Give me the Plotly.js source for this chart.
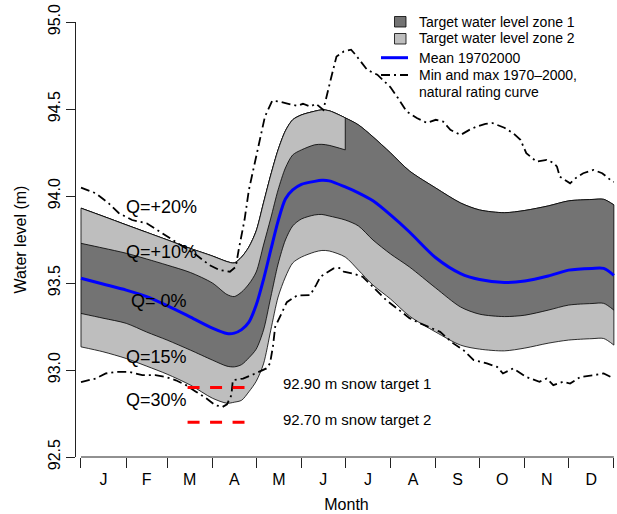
<!DOCTYPE html>
<html>
<head>
<meta charset="utf-8">
<script src="https://cdn.plot.ly/plotly-3.0.1.min.js"></script>
<style>html,body{margin:0;padding:0;background:#fff;}#chart{width:617px;height:514px;}</style>
</head>
<body>
<div id="chart"></div>
<script>
// ---- data (day of year, water level in m) ----
const bandDays = [0, 15, 31, 45, 59, 75, 90, 100, 105, 110, 115, 120, 125, 130, 135, 140, 145, 151, 160, 165, 170, 181, 190, 200, 212, 225, 243, 260, 273, 290, 304, 320, 334, 350, 358, 365];
const qPlus20 = [93.930, 93.884, 93.834, 93.791, 93.748, 93.698, 93.655, 93.623, 93.615, 93.649, 93.707, 93.799, 93.960, 94.121, 94.265, 94.374, 94.438, 94.466, 94.487, 94.495, 94.490, 94.449, 94.409, 94.340, 94.248, 94.144, 94.046, 93.960, 93.920, 93.904, 93.917, 93.943, 93.972, 93.980, 93.981, 93.949];
const switchDay = 181;
const qPlus10 = [93.728, 93.701, 93.671, 93.638, 93.603, 93.560, 93.500, 93.434, 93.422, 93.448, 93.494, 93.563, 93.718, 93.873, 94.035, 94.161, 94.236, 94.265, 94.294, 94.297, 94.291, 94.265];
const meanLevel = [93.527, 93.494, 93.459, 93.422, 93.370, 93.304, 93.241, 93.210, 93.212, 93.232, 93.275, 93.373, 93.520, 93.690, 93.856, 93.983, 94.035, 94.067, 94.084, 94.090, 94.087, 94.052, 94.018, 93.972, 93.891, 93.793, 93.645, 93.554, 93.520, 93.503, 93.511, 93.540, 93.574, 93.584, 93.584, 93.544];
const qMinus15 = [93.325, 93.298, 93.268, 93.218, 93.172, 93.114, 93.057, 93.022, 93.018, 93.031, 93.070, 93.120, 93.229, 93.419, 93.609, 93.747, 93.828, 93.868, 93.891, 93.894, 93.885, 93.862, 93.828, 93.747, 93.667, 93.592, 93.471, 93.362, 93.321, 93.307, 93.315, 93.344, 93.373, 93.382, 93.383, 93.344];
const qMinus30 = [93.133, 93.105, 93.066, 93.022, 92.976, 92.913, 92.838, 92.809, 92.815, 92.826, 92.875, 92.935, 93.035, 93.229, 93.419, 93.534, 93.615, 93.649, 93.678, 93.687, 93.684, 93.649, 93.574, 93.488, 93.408, 93.310, 93.218, 93.143, 93.120, 93.110, 93.126, 93.154, 93.172, 93.180, 93.181, 93.143];

const maxDays = [0, 10, 19, 26, 35, 45, 54, 63, 72, 79, 88, 95, 102, 106, 108, 112, 115, 121, 126, 131, 136, 142, 148, 152, 157, 161, 166, 171, 175, 180, 185, 188, 196, 203, 212, 217, 223, 230, 237, 243, 248, 253, 260, 266, 271, 277, 282, 290, 296, 301, 305, 312, 319, 324, 326, 328, 335, 339, 344, 351, 357, 364, 365];
const maxLevel = [94.048, 94.016, 93.958, 93.901, 93.862, 93.843, 93.795, 93.747, 93.699, 93.661, 93.603, 93.574, 93.565, 93.593, 93.690, 93.862, 94.035, 94.265, 94.457, 94.547, 94.543, 94.530, 94.518, 94.530, 94.514, 94.530, 94.495, 94.668, 94.802, 94.831, 94.841, 94.812, 94.725, 94.697, 94.625, 94.564, 94.486, 94.448, 94.420, 94.438, 94.428, 94.380, 94.351, 94.380, 94.399, 94.415, 94.419, 94.392, 94.361, 94.323, 94.246, 94.198, 94.208, 94.189, 94.169, 94.111, 94.073, 94.104, 94.131, 94.150, 94.131, 94.083, 94.081];
const minDays = [0, 10, 17, 24, 33, 42, 51, 58, 65, 72, 79, 86, 92, 97, 100, 103, 104, 111, 120, 127, 129.5, 131.5, 133, 137.5, 141, 148, 157, 161, 164, 173, 177, 180, 186, 193, 200, 209, 218, 225, 232, 246, 255, 262, 269, 278, 285, 289, 296, 305, 314, 319, 323.5, 330, 335, 342, 351, 358, 365];
const minLevel = [92.930, 92.951, 92.980, 92.989, 92.989, 92.970, 92.970, 92.960, 92.941, 92.913, 92.874, 92.836, 92.798, 92.788, 92.803, 92.855, 92.941, 92.951, 92.982, 93.009, 93.039, 93.137, 93.248, 93.325, 93.390, 93.428, 93.431, 93.488, 93.536, 93.584, 93.586, 93.565, 93.555, 93.536, 93.478, 93.402, 93.344, 93.298, 93.269, 93.219, 93.153, 93.114, 93.057, 93.038, 93.018, 92.980, 93.009, 92.960, 92.932, 92.951, 92.913, 92.932, 92.922, 92.960, 92.970, 92.980, 92.951];

const snowTargets = [92.90, 92.70];
const snowDays = [73, 112];
const snowLabels = ["92.90 m snow target 1", "92.70 m snow target 2"];
const snowLabelDay = 137;
const snowLabelLevel = [92.921, 92.717];

const qLabels = ["Q=+20%", "Q=+10%", "Q= 0%", "Q=15%", "Q=30%"];
const qLabelDay = [29.7, 29.7, 33.1, 29.7, 29.7];
const qLabelLevel = [93.939, 93.680, 93.397, 93.076, 92.826];

const monthStarts = [0, 31, 59, 90, 120, 151, 181, 212, 243, 273, 304, 334, 365];
const monthLetters = ["J", "F", "M", "A", "M", "J", "J", "A", "S", "O", "N", "D"];
const yTicks = [92.5, 93.0, 93.5, 94.0, 94.5, 95.0];
const legendLabels = ["Target water level zone 1", "Target water level zone 2", "Mean 19702000", "Min and max 1970\u20132000,", "natural rating curve"];

// ---- derived geometry ----
const monthMids = monthLetters.map((m, i) => (monthStarts[i] + monthStarts[i + 1]) / 2);
const iSw = bandDays.indexOf(switchDay);
const preDays = bandDays.slice(0, iSw + 1);
const last = bandDays.length - 1;

const DARK = "#737373", LIGHT = "#BEBEBE", BLUE = "#0000FF";
const DASHDOT = "9px,4px,2px,4px";
const FONT = "Liberation Sans, Arial, Helvetica, sans-serif";
const EDGE = {color: "#000", width: 0.8, shape: "spline", smoothing: 0.8};

const traces = [
  // zone 2 (light) between Q=30% and Q=+20%
  {x: bandDays, y: qMinus30, type: "scatter", mode: "lines", line: EDGE},
  {x: bandDays, y: qPlus20, type: "scatter", mode: "lines", fill: "tonexty", fillcolor: LIGHT, line: EDGE},
  // zone 1 (dark) between Q=15% and upper limit
  {x: bandDays, y: qMinus15, type: "scatter", mode: "lines", line: EDGE},
  {x: bandDays, y: qPlus20, type: "scatter", mode: "lines", fill: "tonexty", fillcolor: DARK, line: EDGE},
  // before the switch day the upper zone-1 limit is Q=+10%, zone 2 above it
  {x: preDays, y: qPlus10, type: "scatter", mode: "lines", line: EDGE},
  {x: preDays, y: qPlus20.slice(0, iSw + 1), type: "scatter", mode: "lines", fill: "tonexty", fillcolor: LIGHT, line: EDGE},
  // vertical edges of the zones
  {x: [bandDays[0], bandDays[0], null, bandDays[last], bandDays[last], null, switchDay, switchDay],
   y: [qMinus30[0], qPlus20[0], null, qMinus30[last], qPlus20[last], null, qPlus10[iSw], qPlus20[iSw]],
   type: "scatter", mode: "lines", line: {color: "#000", width: 0.8}},
  {x: bandDays, y: meanLevel, type: "scatter", mode: "lines", line: {color: BLUE, width: 3, shape: "spline", smoothing: 0.8}},
  {x: maxDays, y: maxLevel, type: "scatter", mode: "lines", line: {color: "#000", width: 1.8, dash: DASHDOT}},
  {x: minDays, y: minLevel, type: "scatter", mode: "lines", line: {color: "#000", width: 1.8, dash: DASHDOT}}
];
snowTargets.forEach(v => traces.push({x: snowDays, y: [v, v], xaxis: "x2", type: "scatter", mode: "lines", line: {color: "#FF0000", width: 3, dash: "12px,10.5px"}}));

// pixel helpers for the hand-built legend (plot area: x 76..617, y 22..457)
const PL = 76, PW = 541, PT = 22, PH = 435;
const px = v => (v - PL) / PW;
const py = v => (PT + PH - v) / PH;

const shapes = [
  {type: "line", xref: "x", yref: "paper", x0: monthStarts[0], x1: monthStarts[monthStarts.length - 1], y0: 0, y1: 0, line: {color: "#222", width: 1}},
  {type: "rect", xref: "paper", yref: "paper", x0: px(394.5), x1: px(406), y0: py(27), y1: py(16.5), fillcolor: DARK, line: {color: "#000", width: 0.8}},
  {type: "rect", xref: "paper", yref: "paper", x0: px(394.5), x1: px(406), y0: py(44), y1: py(33.5), fillcolor: LIGHT, line: {color: "#000", width: 0.8}},
  {type: "line", xref: "paper", yref: "paper", x0: px(381), x1: px(408), y0: py(57.7), y1: py(57.7), line: {color: BLUE, width: 3}},
  {type: "line", xref: "paper", yref: "paper", x0: px(381), x1: px(408), y0: py(75), y1: py(75), line: {color: "#000", width: 1.8, dash: DASHDOT}}
];

const legendY = [21.7, 38.5, 58, 75, 91.7];
const annotations = [];
legendLabels.forEach((t, i) => annotations.push({text: t, xref: "paper", yref: "paper", x: px(417), y: py(legendY[i]), xanchor: "left", yanchor: "middle", showarrow: false, font: {family: FONT, size: 14, color: "#000"}}));
qLabels.forEach((t, i) => annotations.push({text: t, x: qLabelDay[i], y: qLabelLevel[i], xref: "x", yref: "y", xanchor: "left", yanchor: "middle", showarrow: false, font: {family: FONT, size: 18, color: "#000"}}));
snowLabels.forEach((t, i) => annotations.push({text: t, x: snowLabelDay, y: snowLabelLevel[i], xref: "x", yref: "y", xanchor: "left", yanchor: "middle", showarrow: false, font: {family: FONT, size: 15, color: "#000"}}));

const xRange = [-3.42, -3.42 + PW / 1.46];
const layout = {
  width: 617, height: 514,
  margin: {l: PL, r: 0, t: PT, b: 514 - PT - PH, pad: 0},
  paper_bgcolor: "#fff", plot_bgcolor: "#fff",
  showlegend: false,
  font: {family: FONT, size: 16, color: "#000"},
  xaxis: {range: xRange, tickmode: "array", tickvals: monthStarts, showticklabels: false, ticks: "outside", ticklen: 10, tickwidth: 1, tickcolor: "#222", showline: false, showgrid: false, zeroline: false},
  xaxis2: {overlaying: "x", anchor: "y", side: "bottom", range: xRange, tickmode: "array", tickvals: monthMids, ticktext: monthLetters, ticks: "outside", ticklen: 8, tickcolor: "rgba(0,0,0,0)", showline: false, showgrid: false, zeroline: false, tickfont: {family: FONT, size: 16}, title: {text: "Month", font: {family: FONT, size: 16}, standoff: 11}},
  yaxis: {range: [yTicks[0], yTicks[yTicks.length - 1]], tickmode: "array", tickvals: yTicks, ticktext: yTicks.map(v => v.toFixed(1)), tickangle: -90, ticks: "outside", ticklen: 9, tickwidth: 1, tickcolor: "#222", showline: true, linecolor: "#222", linewidth: 1, showgrid: false, zeroline: false, tickfont: {family: FONT, size: 16}, title: {text: "Water level (m)", font: {family: FONT, size: 16}, standoff: 14}},
  shapes: shapes,
  annotations: annotations
};
Plotly.newPlot("chart", traces, layout, {displayModeBar: false, staticPlot: true});
</script>
</body>
</html>
